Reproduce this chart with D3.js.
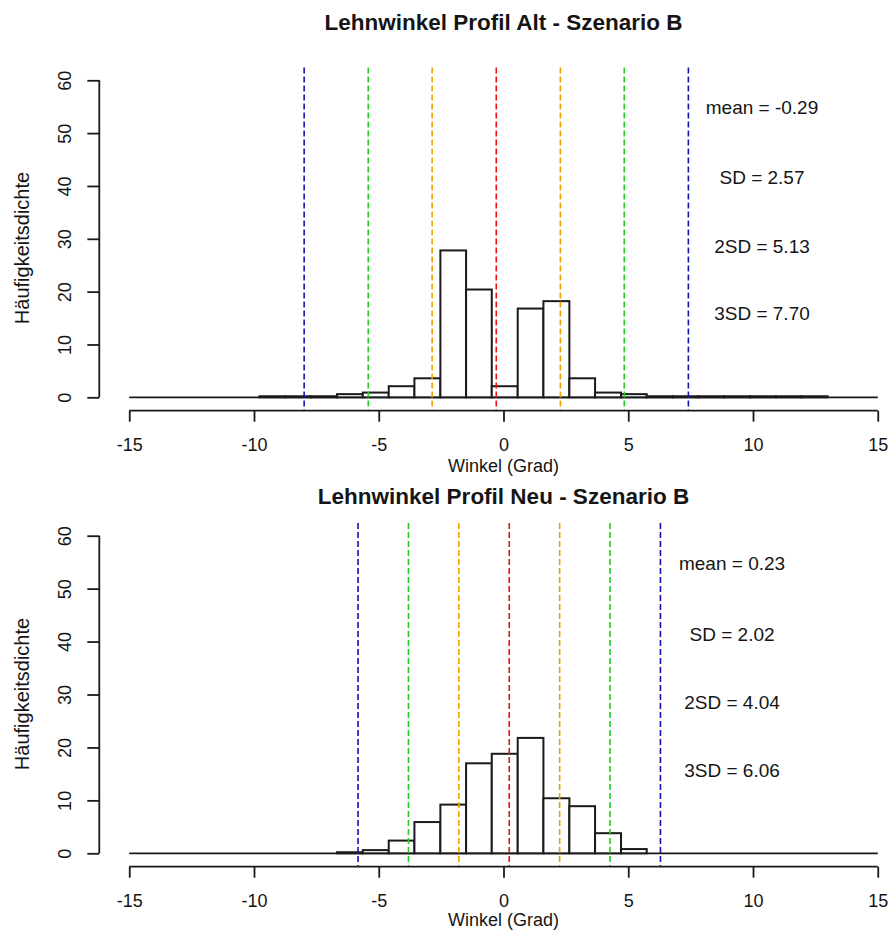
<!DOCTYPE html>
<html>
<head>
<meta charset="utf-8">
<script src="https://cdn.jsdelivr.net/npm/d3@7"></script>
<style>
  body { margin: 0; background: #fff; }
  svg { display: block; }
  text { font-family: "Liberation Sans", Arial, Helvetica, sans-serif; fill: #151515; }
</style>
</head>
<body>
<svg id="chart" width="890" height="930"></svg>
<script>
// Bin edges (degrees) shared by both histograms
const breaksAlt = [-9.78, -8.74, -7.71, -6.67, -5.64, -4.60, -3.57, -2.53, -1.50, -0.47,
                   0.57, 1.60, 2.64, 3.67, 4.71, 5.74, 6.78, 7.81, 8.85, 9.88, 10.92, 11.95, 12.99];
const densityAlt = [0.2, 0.2, 0.2, 0.6, 0.9, 2.1, 3.6, 27.8, 20.4, 2.1, 16.8,
                    18.2, 3.6, 0.9, 0.6, 0.2, 0.2, 0.2, 0.2, 0.2, 0.2, 0.2];

const breaksNeu = [-6.67, -5.64, -4.60, -3.57, -2.53, -1.50, -0.47, 0.57, 1.60, 2.64, 3.67, 4.71, 5.74];
const densityNeu = [0.2, 0.6, 2.4, 5.9, 9.2, 17.0, 18.8, 21.8, 10.4, 8.9, 3.8, 0.8];

// Summary statistics: mean and 1, 2, 3 standard deviations
const meanAlt = -0.29;
const sdAlt = [2.57, 5.13, 7.70];
const meanNeu = 0.23;
const sdNeu = [2.02, 4.04, 6.06];

const sdNames = ["SD", "2SD", "3SD"];
const xTicks = [-15, -10, -5, 0, 5, 10, 15];
const yTicks = [0, 10, 20, 30, 40, 50, 60];

const titles = ["Lehnwinkel Profil Alt - Szenario B", "Lehnwinkel Profil Neu - Szenario B"];
const xLabel = "Winkel (Grad)";
const yLabel = "Häufigkeitsdichte";

const lineColors = { mean: "#ee1111", sd: ["#eea000", "#22cc22", "#1414b4"] };

const svg = d3.select("#chart");
const x = d3.scaleLinear().domain([-16.2, 16.2]).range([99.3, 907.7]);

function panel(opts) {
  const y = d3.scaleLinear().domain([-2.4, 62.4]).range([opts.bottom, opts.top]);
  const g = svg.append("g");

  // title
  g.append("text")
    .attr("x", (x.range()[0] + x.range()[1]) / 2)
    .attr("y", opts.titleY)
    .attr("dy", "0.35em")
    .attr("text-anchor", "middle")
    .style("font-weight", "bold")
    .style("font-size", "22.5px")
    .text(opts.title);

  // zero line across the axis range
  g.append("line")
    .attr("x1", x(-15)).attr("x2", x(15))
    .attr("y1", y(0)).attr("y2", y(0))
    .attr("stroke", "#1a1a1a").attr("stroke-width", 1.8);

  // histogram bars
  g.selectAll("rect.bar")
    .data(opts.density)
    .join("rect")
    .attr("class", "bar")
    .attr("x", (d, i) => x(opts.breaks[i]))
    .attr("width", (d, i) => x(opts.breaks[i + 1]) - x(opts.breaks[i]))
    .attr("y", d => y(d))
    .attr("height", d => y(0) - y(d))
    .attr("fill", "#fff")
    .attr("stroke", "#1a1a1a")
    .attr("stroke-width", 2);

  // reference lines: mean and mean ± k·SD
  const vlines = [{ v: opts.mean, c: lineColors.mean }];
  opts.sd.forEach((s, k) => {
    vlines.push({ v: opts.mean - s, c: lineColors.sd[k] });
    vlines.push({ v: opts.mean + s, c: lineColors.sd[k] });
  });
  g.selectAll("line.ref")
    .data(vlines)
    .join("line")
    .attr("class", "ref")
    .attr("x1", d => x(d.v)).attr("x2", d => x(d.v))
    .attr("y1", opts.top).attr("y2", opts.bottom)
    .attr("stroke", d => d.c)
    .attr("stroke-width", 1.6)
    .attr("stroke-dasharray", "6,3");

  // statistics text
  const fmt = d3.format(".2f");
  const labels = [`mean = ${fmt(opts.mean).replace("−", "-")}`]
    .concat(opts.sd.map((s, k) => `${sdNames[k]} = ${fmt(s)}`));
  g.selectAll("text.stat")
    .data(labels)
    .join("text")
    .attr("class", "stat")
    .attr("x", x(opts.labelX))
    .attr("y", (d, i) => y(opts.labelY[i]))
    .attr("dy", "0.35em")
    .attr("text-anchor", "middle")
    .style("font-size", "19px")
    .text(d => d);

  // x axis
  const gx = g.append("g")
    .attr("transform", `translate(0,${opts.bottom + 0.7})`)
    .call(d3.axisBottom(x).tickValues(xTicks).tickSize(11).tickFormat(d => String(d)));
  gx.select(".domain").remove();
  gx.append("line")
    .attr("x1", x(-15)).attr("x2", x(15))
    .attr("stroke", "#1a1a1a").attr("stroke-width", 1.8);
  gx.selectAll(".tick line").attr("stroke", "#1a1a1a").attr("stroke-width", 1.8);
  gx.selectAll(".tick text")
    .attr("y", 34).attr("dy", "0.35em")
    .style("font-size", "18px").attr("fill", "#151515");

  g.append("text")
    .attr("x", (x.range()[0] + x.range()[1]) / 2)
    .attr("y", opts.xLabelY)
    .attr("dy", "0.35em")
    .attr("text-anchor", "middle")
    .style("font-size", "18px")
    .text(xLabel);

  // y axis
  const gy = g.append("g")
    .attr("transform", `translate(${x.range()[0]},0)`)
    .call(d3.axisLeft(y).tickValues(yTicks).tickSize(12));
  gy.select(".domain").remove();
  gy.append("line")
    .attr("y1", y(0)).attr("y2", y(60))
    .attr("stroke", "#1a1a1a").attr("stroke-width", 1.8);
  gy.selectAll(".tick line").attr("stroke", "#1a1a1a").attr("stroke-width", 1.8);
  gy.selectAll(".tick text")
    .attr("transform", "rotate(-90)")
    .attr("x", 0).attr("y", -34.5).attr("dy", "0.35em")
    .attr("text-anchor", "middle")
    .style("font-size", "18px").attr("fill", "#151515");

  g.append("text")
    .attr("transform", `translate(22,${opts.yLabelY}) rotate(-90)`)
    .attr("dy", "0.35em")
    .attr("text-anchor", "middle")
    .style("font-size", "20px")
    .text(yLabel);
}

panel({
  top: 67.6, bottom: 410, title: titles[0], titleY: 22, xLabelY: 466, yLabelY: 248,
  breaks: breaksAlt, density: densityAlt, mean: meanAlt, sd: sdAlt,
  labelX: 10.36, labelY: [54.8, 41.7, 28.5, 15.8]
});
panel({
  top: 523, bottom: 866, title: titles[1], titleY: 496, xLabelY: 920, yLabelY: 694,
  breaks: breaksNeu, density: densityNeu, mean: meanNeu, sd: sdNeu,
  labelX: 9.16, labelY: [54.7, 41.4, 28.5, 15.6]
});
</script>
</body>
</html>
